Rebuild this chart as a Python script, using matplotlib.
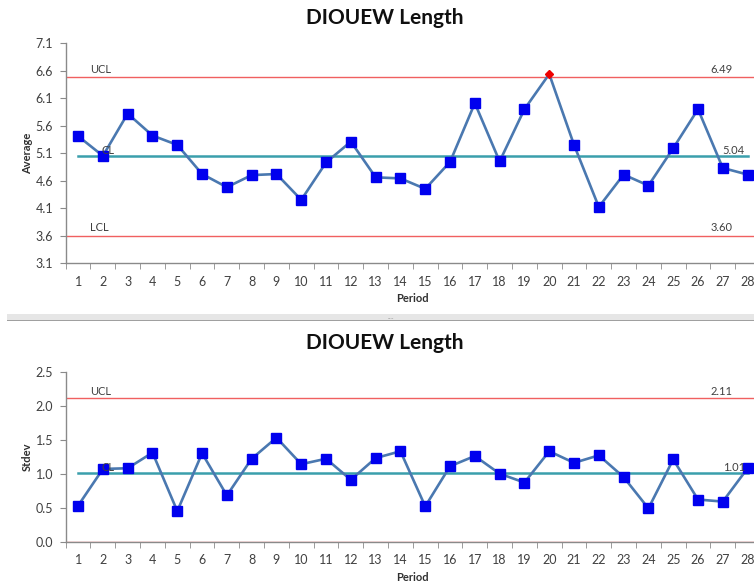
import matplotlib.pyplot as plt
from matplotlib.patches import Rectangle
from matplotlib.ticker import MultipleLocator, FormatStrFormatter

plt.rcParams['font.family'] = ['Lato', 'DejaVu Sans']

# Subgroup averages and standard deviations per period
periods = list(range(1, 29))
averages = [5.41, 5.05, 5.82, 5.42, 5.25, 4.72, 4.48, 4.70, 4.72, 4.25,
            4.93, 5.31, 4.66, 4.64, 4.45, 4.94, 6.01, 4.95, 5.90, 6.54,
            5.25, 4.12, 4.71, 4.51, 5.19, 5.90, 4.83, 4.71]
stdevs = [0.53, 1.07, 1.08, 1.31, 0.45, 1.30, 0.68, 1.22, 1.53, 1.14,
          1.22, 0.91, 1.23, 1.33, 0.52, 1.11, 1.26, 1.00, 0.87, 1.33,
          1.16, 1.27, 0.95, 0.49, 1.21, 0.62, 0.59, 1.08]

# Control limits
avg_limits = {'UCL': 6.49, 'CL': 5.04, 'LCL': 3.60}
sd_limits = {'UCL': 2.11, 'CL': 1.01, 'LCL': 0.00}

title = 'DIOUEW Length'
line_color = '#4a78b0'
marker_color = '#0000ee'
cl_color = '#3a9fac'
limit_color = '#f06060'
axis_color = '#8a8a8a'
text_color = '#404040'

fig = plt.figure(figsize=(7.54, 5.84), dpi=100)
W, H = 754, 584


def make_axes(top_px, bottom_px):
    left_px, right_px = 65.7, 760
    return fig.add_axes([left_px / W, 1 - bottom_px / H,
                         (right_px - left_px) / W, (bottom_px - top_px) / H])


def draw_chart(ax, values, limits, ylim, step, ylabel, right_pos):
    # points outside the limits get their own marker
    inside = [i for i, v in enumerate(values)
              if limits['LCL'] <= v <= limits['UCL']]
    outside = [i for i in range(len(values)) if i not in inside]
    ax.plot(periods, values, color=line_color, lw=1.9, zorder=3,
            marker='s', ms=6.8, mfc=marker_color, mec=marker_color,
            markevery=inside)
    ax.plot([periods[i] for i in outside], [values[i] for i in outside],
            ls='none', marker='D', ms=4.5, color='#ee0000', zorder=5)

    ax.axhline(limits['UCL'], color=limit_color, lw=1.0, zorder=2)
    ax.axhline(limits['LCL'], color=limit_color, lw=1.0, zorder=2)
    ax.plot([periods[0], periods[-1]], [limits['CL']] * 2,
            color=cl_color, lw=1.8, zorder=2)

    # Limit labels
    off = 0.01 * (ylim[1] - ylim[0])
    lab = dict(fontsize=8, color=text_color, va='bottom', zorder=4)
    ax.text(1.5, limits['UCL'] + off, 'UCL', **lab)
    ax.text(1.95, limits['CL'], 'CL', **lab)
    if limits['LCL'] > ylim[0]:
        ax.text(1.5, limits['LCL'] + off, 'LCL', **lab)
        ax.text(right_pos[0], limits['LCL'] + off,
                f"{limits['LCL']:.2f}", **lab)
    ax.text(right_pos[0], limits['UCL'] + off,
            f"{limits['UCL']:.2f}", **lab)
    ax.text(right_pos[1], limits['CL'], f"{limits['CL']:.2f}", **lab)

    ax.set_xlim(0.5, 28.5)
    ax.set_ylim(*ylim)
    ax.xaxis.set_major_locator(MultipleLocator(1))
    ax.xaxis.set_minor_locator(MultipleLocator(1, offset=0.5))
    ax.yaxis.set_major_locator(MultipleLocator(step))
    ax.yaxis.set_major_formatter(FormatStrFormatter('%.1f'))
    ax.tick_params(axis='x', which='major', length=0, pad=9,
                   labelsize=9, labelcolor=text_color)
    ax.tick_params(axis='x', which='minor', length=4, color=axis_color,
                   direction='out')
    ax.tick_params(axis='y', length=4, color=axis_color, direction='out',
                   labelsize=9, labelcolor=text_color, pad=5)
    for side in ('top', 'right'):
        ax.spines[side].set_visible(False)
    for side in ('left', 'bottom'):
        ax.spines[side].set_color(axis_color)
        ax.spines[side].set_linewidth(1.0)

    ax.set_xlabel('Period', fontsize=8, fontweight='bold', color='#303030',
                  labelpad=4)
    ax.set_ylabel(ylabel, fontsize=8, fontweight='bold', color='#303030',
                  labelpad=2)


# Average chart
ax1 = make_axes(43.3, 263)
draw_chart(ax1, averages, avg_limits, (3.1, 7.1), 0.5, 'Average', (26.5, 27.0))
ax1.set_yticks([3.1 + 0.5 * i for i in range(9)])

# Standard deviation chart
ax2 = make_axes(371.7, 541.7)
draw_chart(ax2, stdevs, sd_limits, (0.0, 2.5), 0.5, 'Stdev', (26.5, 27.0))

fig.text(385 / W, 1 - 18 / H, title, ha='center', va='center',
         fontsize=15, fontweight='bold', color='#101010')
fig.text(385 / W, 1 - 343 / H, title, ha='center', va='center',
         fontsize=15, fontweight='bold', color='#101010')

# Splitter bar between the two charts
fig.patches.append(Rectangle((7 / W, 1 - 320 / H), 747 / W, 6 / H,
                             transform=fig.transFigure, facecolor='#e6e6e6',
                             edgecolor='none'))
fig.patches.append(Rectangle((7 / W, 1 - 321 / H), 747 / W, 1.2 / H,
                             transform=fig.transFigure, facecolor='#a0a0a0',
                             edgecolor='none'))
fig.text(391 / W, 1 - 316 / H, '....', ha='center', va='center',
         fontsize=5, color='#a0a0a0')

fig.savefig('out.png', dpi=100)
